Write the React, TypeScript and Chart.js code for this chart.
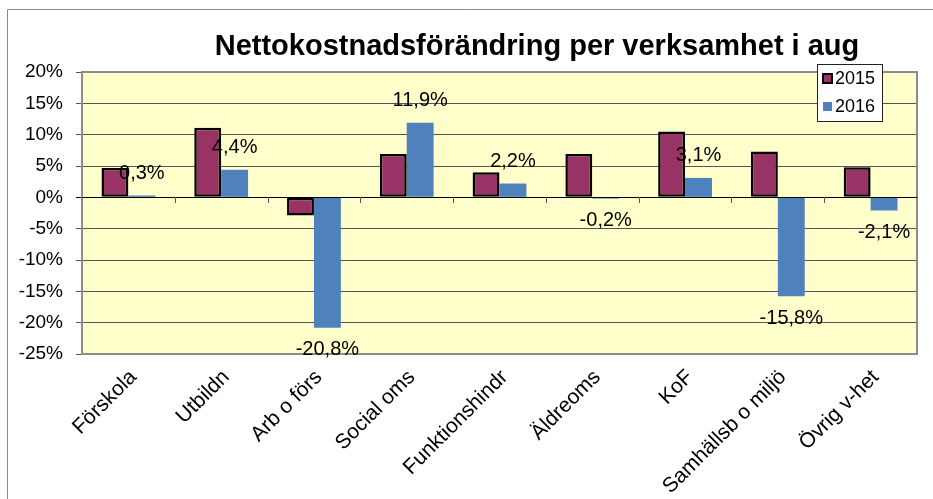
import React, { useEffect, useRef } from "react";
import { Chart, registerables } from "chart.js";

Chart.register(...registerables);

const TITLE = "Nettokostnadsförändring per verksamhet i aug";
const categories = [
  "Förskola",
  "Utbildn",
  "Arb o förs",
  "Social oms",
  "Funktionshindr",
  "Äldreoms",
  "KoF",
  "Samhällsb o miljö",
  "Övrig v-het",
];
const series2015 = [4.7, 11.1, -2.9, 6.9, 4.0, 6.9, 10.5, 7.3, 4.8];
const series2016 = [0.3, 4.4, -20.8, 11.9, 2.2, -0.2, 3.1, -15.8, -2.1];
const seriesNames = ["2015", "2016"];
const yMin = -25;
const yMax = 20;
const yStep = 5;

const FONT = '"Liberation Sans", Arial, sans-serif';
const C2015 = "#993366";
const C2016 = "#4F81BD";

const fmtPct = (v: number) => v.toFixed(1).replace(".", ",") + "%";

const decorPlugin = {
  id: "decor",
  beforeDraw(chart: any) {
    const { ctx, chartArea: a, width, height } = chart;
    ctx.save();
    ctx.fillStyle = "#ffffff";
    ctx.fillRect(0, 0, width, height);
    ctx.strokeStyle = "#8a8a8a";
    ctx.lineWidth = 1;
    ctx.beginPath();
    ctx.moveTo(7.5, height + 5);
    ctx.lineTo(7.5, 9.5);
    ctx.lineTo(width + 5, 9.5);
    ctx.stroke();
    ctx.fillStyle = "#FFFFCC";
    ctx.fillRect(a.left, a.top, a.right - a.left, a.bottom - a.top);
    ctx.restore();
  },
  afterDatasetsDraw(chart: any) {
    const { ctx, chartArea: a, scales } = chart;
    ctx.save();
    ctx.strokeStyle = "#8c8c8c";
    ctx.lineWidth = 2;
    ctx.strokeRect(a.left, a.top, a.right - a.left, a.bottom - a.top);
    const y0 = scales.y.getPixelForValue(0);
    ctx.strokeStyle = "#000000";
    ctx.lineWidth = 1;
    ctx.beginPath();
    ctx.moveTo(a.left, Math.round(y0) + 0.5);
    ctx.lineTo(a.right, Math.round(y0) + 0.5);
    ctx.stroke();
    const n = categories.length;
    const cw = (a.right - a.left) / n;
    ctx.strokeStyle = "#555555";
    ctx.beginPath();
    for (let i = 1; i < n; i++) {
      const x = Math.round(a.left + i * cw) + 0.5;
      ctx.moveTo(x, Math.round(y0));
      ctx.lineTo(x, Math.round(y0) + 6);
    }
    ctx.stroke();
    const meta = chart.getDatasetMeta(1);
    ctx.fillStyle = "#000000";
    ctx.font = `20px ${FONT}`;
    ctx.textAlign = "center";
    ctx.textBaseline = "middle";
    meta.data.forEach((el: any, i: number) => {
      const v = series2016[i];
      const y = v >= 0 ? el.y - 22 : el.y + 22;
      ctx.fillText(fmtPct(v), el.x, y);
    });
    ctx.restore();
  },
  afterDraw(chart: any) {
    const { ctx } = chart;
    ctx.save();
    ctx.fillStyle = "#000000";
    ctx.font = `bold 29px ${FONT}`;
    ctx.textAlign = "center";
    ctx.textBaseline = "alphabetic";
    ctx.fillText(TITLE, 537, 55);
    const lx = 817, ly = 64, lw = 65, lh = 57;
    ctx.fillStyle = "#ffffff";
    ctx.fillRect(lx, ly, lw, lh);
    ctx.strokeStyle = "#222222";
    ctx.lineWidth = 1;
    ctx.strokeRect(lx + 0.5, ly + 0.5, lw, lh);
    ctx.font = `18px ${FONT}`;
    ctx.textAlign = "left";
    ctx.textBaseline = "middle";
    const items = [
      { name: seriesNames[0], fill: C2015, border: true, y: 78 },
      { name: seriesNames[1], fill: C2016, border: false, y: 106 },
    ];
    items.forEach((it) => {
      ctx.fillStyle = it.fill;
      ctx.fillRect(823, it.y - 4, 9, 9);
      if (it.border) {
        ctx.strokeStyle = "#000000";
        ctx.lineWidth = 2;
        ctx.strokeRect(823, it.y - 4, 9, 9);
      }
      ctx.fillStyle = "#000000";
      ctx.fillText(it.name, 835, it.y + 1);
    });
    ctx.restore();
  },
};

export default function App() {
  const ref = useRef<HTMLCanvasElement | null>(null);
  useEffect(() => {
    if (!ref.current) return;
    const chart = new Chart(ref.current, {
      type: "bar",
      data: {
        labels: categories,
        datasets: [
          {
            label: seriesNames[0],
            data: series2015,
            backgroundColor: C2015,
            borderColor: "#000000",
            borderWidth: 2.5,
            borderSkipped: false,
            categoryPercentage: 0.58,
            barPercentage: 1.0,
          },
          {
            label: seriesNames[1],
            data: series2016,
            backgroundColor: C2016,
            borderWidth: 0,
            categoryPercentage: 0.58,
            barPercentage: 1.0,
          },
        ],
      },
      options: {
        responsive: false,
        animation: false,
        devicePixelRatio: 1,
        layout: { padding: { top: 72, left: 0, right: 16, bottom: 0 } },
        plugins: {
          legend: { display: false },
          title: { display: false },
          tooltip: { enabled: false },
        },
        scales: {
          x: {
            grid: { display: false, drawTicks: false },
            border: { display: false },
            ticks: {
              autoSkip: false,
              minRotation: 45,
              maxRotation: 45,
              padding: 11,
              labelOffset: 5,
              color: "#000000",
              font: { family: FONT, size: 21 },
            },
            afterFit(scale: any) {
              scale.height = 145;
              scale.paddingLeft = 0;
              scale.paddingRight = 0;
            },
          },
          y: {
            min: yMin,
            max: yMax,
            ticks: {
              stepSize: yStep,
              padding: 13,
              color: "#000000",
              font: { family: FONT, size: 19 },
              callback: (v: any) => `${v}%`,
            },
            grid: {
              color: (ctx: any) => (ctx.tick && ctx.tick.value === 0 ? "#000000" : "#555555"),
              lineWidth: 1,
              tickLength: 6,
            },
            border: { display: true, color: "#8c8c8c", width: 2 },
            afterFit(scale: any) {
              scale.width = 82;
              scale.paddingTop = 0;
              scale.paddingBottom = 0;
            },
          },
        },
      },
      plugins: [decorPlugin],
    });
    return () => chart.destroy();
  }, []);
  return (
    <div style={{ position: "fixed", left: 0, top: 0, width: 933, height: 499, background: "#fff" }}>
      <canvas ref={ref} width={933} height={499} style={{ display: "block" }} />
    </div>
  );
}
